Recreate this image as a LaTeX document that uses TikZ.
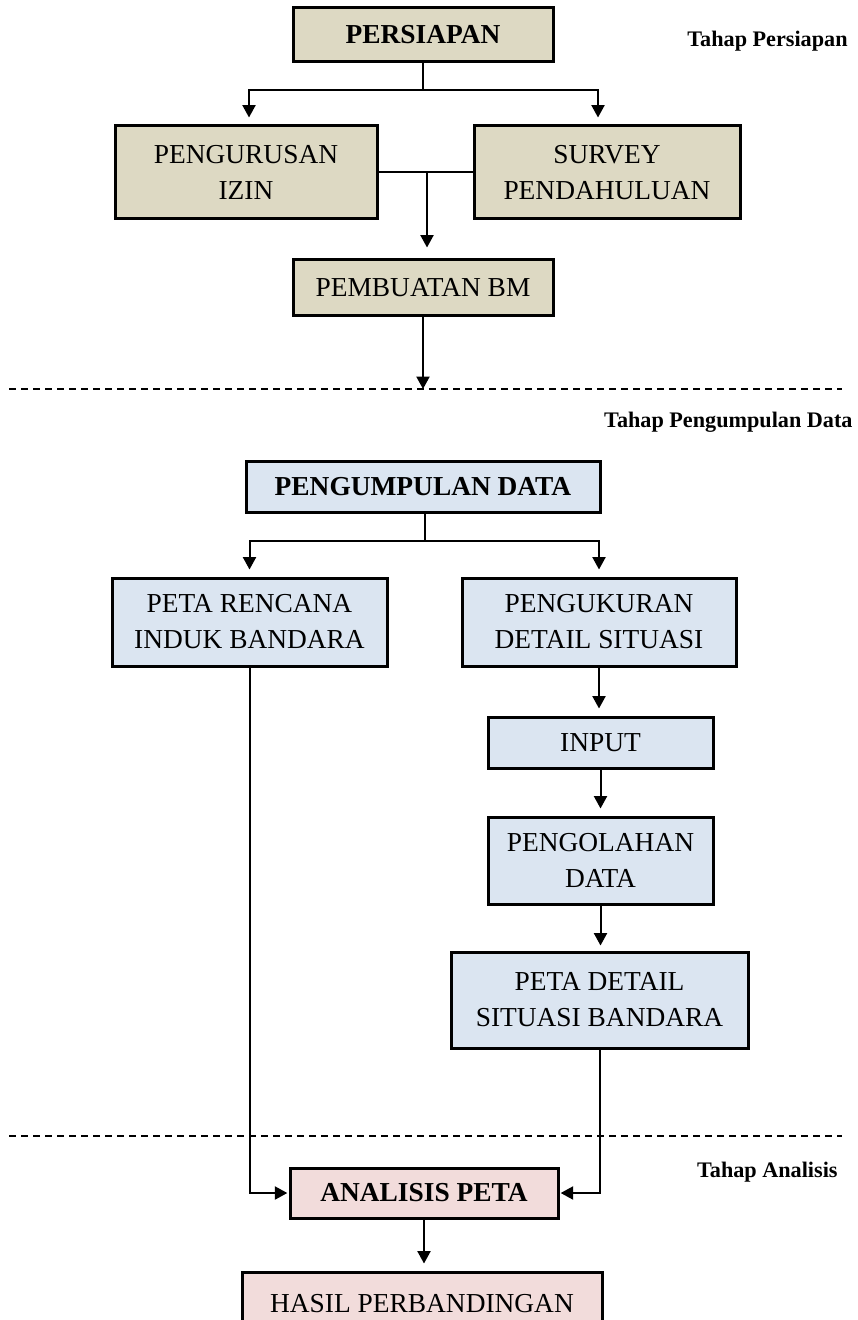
\documentclass[tikz,border=0pt]{standalone}
\usepackage{fontspec}
\setmainfont{Liberation Serif}
\usetikzlibrary{arrows.meta}
\definecolor{tanfill}{HTML}{DDD9C3}
\definecolor{bluefill}{HTML}{DBE5F1}
\definecolor{pinkfill}{HTML}{F2DCDB}
\begin{document}
\begin{tikzpicture}[x=0.5pt,y=-0.5pt,
  box/.style={draw=black, line width=1.5pt, rectangle, inner sep=0pt, align=center,
    font=\fontsize{13.7}{18}\selectfont},
  bbox/.style={box, font=\fontsize{13.7}{18}\selectfont\bfseries},
  conn/.style={line width=1pt},
  arr/.style={conn, -{Triangle[width=6.5pt,length=6.2pt]}, shorten >=3.5pt},
  sidearr/.style={conn, -{Triangle[width=6.5pt,length=6.2pt]}, shorten >=0.6pt},
  sep/.style={line width=0.8pt, dash pattern=on 3.5pt off 2.5pt},
  lab/.style={font=\fontsize{11.1}{13}\selectfont\bfseries, inner sep=0pt}
]
\clip (0,0) rectangle (857,1320);
\fill[white] (0,0) rectangle (857,1320);

% --- Tahap Persiapan ---
\node[bbox, fill=tanfill, minimum width=130pt, minimum height=27pt] (per) at (423,35) {PERSIAPAN};
\node[box, fill=tanfill, minimum width=131pt, minimum height=46.5pt] (izin) at (246,172.5) {PENGURUSAN\\IZIN};
\node[box, fill=tanfill, minimum width=133pt, minimum height=46.5pt] (survey) at (607,172.5) {SURVEY\\PENDAHULUAN};
\node[box, fill=tanfill, minimum width=130pt, minimum height=28pt] (bm) at (423,288) {PEMBUATAN BM};

\coordinate (b1) at (423,90);
\coordinate (b1l) at (249,90);
\coordinate (b1r) at (598,90);
\draw[conn] (per.south) -- (b1);
\draw[arr] (b1) -- (b1l) -- (b1l |- izin.north);
\draw[arr] (b1) -- (b1r) -- (b1r |- survey.north);
\draw[conn] (izin.east) -- (survey.west);
\coordinate (m1) at (427,172.5);
\draw[arr, shorten >=5.5pt] (m1) -- (m1 |- bm.north);

\coordinate (d1a) at (9,389);
\coordinate (d1b) at (842,389);
\draw[sep] (d1a) -- (d1b);
\draw[arr, shorten >=0pt] (bm.south) -- (bm.south |- d1a);

\node[lab, anchor=base east] (l1) at (848,47) {Tahap Persiapan};
\node[lab, anchor=base east] (l2) at (853,427) {Tahap Pengumpulan Data};

% --- Tahap Pengumpulan Data ---
\node[bbox, fill=bluefill, minimum width=177pt, minimum height=25.5pt] (pd) at (423,486.5) {PENGUMPULAN DATA};
\node[box, fill=bluefill, minimum width=137.5pt, minimum height=44pt] (prib) at (249.5,622) {PETA RENCANA\\INDUK BANDARA};
\node[box, fill=bluefill, minimum width=137pt, minimum height=44pt] (pds) at (599,622) {PENGUKURAN\\DETAIL SITUASI};
\node[box, fill=bluefill, minimum width=112.5pt, minimum height=25.5pt] (inp) at (600.5,742.5) {INPUT};
\node[box, fill=bluefill, minimum width=112.5pt, minimum height=43.5pt] (olah) at (600.5,860.5) {PENGOLAHAN\\DATA};
\node[box, fill=bluefill, minimum width=148.5pt, minimum height=48pt] (det) at (599.5,1000) {PETA DETAIL\\SITUASI BANDARA};

\coordinate (b2) at (425,541);
\draw[conn] (b2 |- pd.south) -- (b2);
\draw[arr] (b2) -| (prib.north);
\draw[arr] (b2) -| (pds.north);
\draw[arr] (pds.south) -- (pds.south |- inp.north);
\draw[arr] (inp.south) -- (inp.south |- olah.north);
\draw[arr, shorten >=2.5pt] (olah.south) -- (olah.south |- det.north);

\coordinate (d2a) at (9,1136);
\coordinate (d2b) at (842,1136);
\draw[sep] (d2a) -- (d2b);
\node[lab, anchor=base east] (l3) at (838,1177) {Tahap Analisis};

% --- Tahap Analisis ---
\node[bbox, fill=pinkfill, minimum width=134pt, minimum height=25pt] (anal) at (424,1193) {ANALISIS PETA};
\node[box, fill=pinkfill, minimum width=180pt, minimum height=29pt] (hasil) at (422,1301) {};
\node[font=\fontsize{13.7}{18}\selectfont, inner sep=0pt, anchor=base] (hasilt) at (422,1312) {HASIL PERBANDINGAN};

\draw[sidearr] (prib.south) |- (anal.west);
\draw[sidearr] (det.south) |- (anal.east);
\draw[arr] (anal.south) -- (anal.south |- hasil.north);
\end{tikzpicture}
\end{document}
